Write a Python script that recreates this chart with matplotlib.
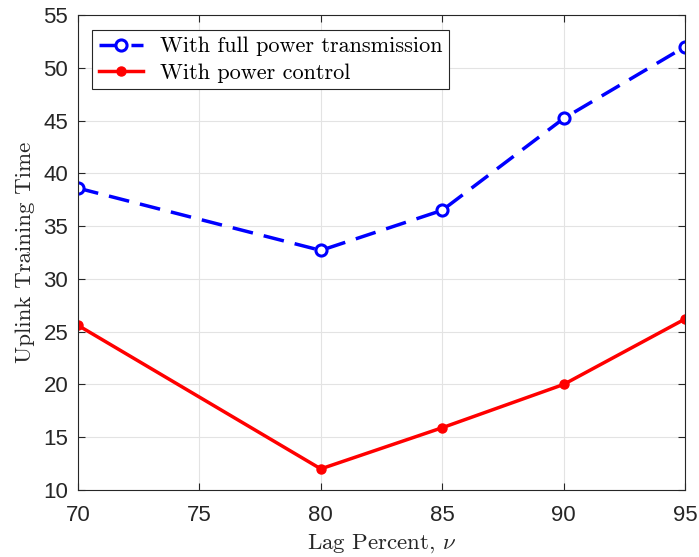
import matplotlib
matplotlib.use("Agg")
import matplotlib.pyplot as plt

# values
lag = [70, 80, 85, 90, 95]
full_power = [38.6, 32.7, 36.5, 45.2, 52.0]
power_ctrl = [25.6, 12.0, 15.9, 20.0, 26.2]

plt.rcParams['mathtext.fontset'] = 'cm'
plt.rcParams['font.family'] = ['Liberation Sans', 'DejaVu Sans']

fig = plt.figure(figsize=(6.99, 5.57), dpi=100)
ax = fig.add_axes([0.1116, 0.1203, 0.8684, 0.8527])

ax.plot(lag, full_power, '--o', color='#0000ff', lw=2.5, ms=8, mew=2.2,
        mfc='white', dashes=(6, 3.2), label='With full power transmission')
ax.plot(lag, power_ctrl, '-o', color='#ff0000', lw=2.5, ms=6.5,
        label='With power control')

ax.set_xlim(70, 95)
ax.set_ylim(10, 55)
ax.set_xticks(range(70, 96, 5))
ax.set_yticks(range(10, 56, 5))
ax.grid(True, color='#e3e3e3', lw=0.8)
ax.set_axisbelow(True)
ax.tick_params(direction='in', top=True, right=True, labelsize=16,
               colors='#262626', length=5)
ax.tick_params(axis='x', pad=11)
ax.tick_params(axis='y', pad=7)
for s in ax.spines.values():
    s.set_color('#262626')
    s.set_linewidth(0.8)

ax.set_xlabel(r'Lag Percent, $\nu$', fontfamily='cmr10', fontsize=16.5,
              color='#262626', labelpad=4)
ax.set_ylabel('Uplink Training Time', fontfamily='cmr10', fontsize=16.5,
              color='#262626', labelpad=6)

leg = ax.legend(loc='upper left', prop={'family': 'cmr10', 'size': 16},
                fancybox=False, framealpha=1, edgecolor='#262626',
                borderpad=0.3, labelspacing=0.3, handlelength=2.0,
                handletextpad=0.75, borderaxespad=0,
                bbox_to_anchor=(0.023, 0.968))
leg.get_frame().set_linewidth(0.8)

fig.savefig('out.png', dpi=100)
